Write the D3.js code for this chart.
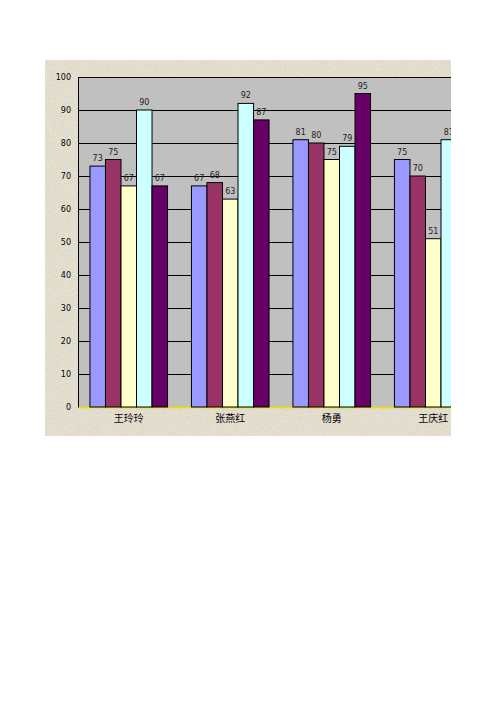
<!DOCTYPE html>
<html>
<head>
<meta charset="utf-8">
<script src="https://cdn.jsdelivr.net/npm/d3@7"></script>
<style>
  body { margin: 0; background: #fff; }
</style>
</head>
<body>
<div id="chart"></div>
<script>
const categories = ["王玲玲", "张燕红", "杨勇", "王庆红"];
const seriesColors = ["#9999FF", "#993366", "#FFFFCC", "#CCFFFF", "#660066"];
// one array per series, in category order (last bar of 王庆红 is cut off in the picture)
const series1 = [73, 67, 81, 75];
const series2 = [75, 68, 80, 70];
const series3 = [67, 63, 75, 51];
const series4 = [90, 92, 79, 81];
const series5 = [67, 87, 95, null];
const yTicks = [0, 10, 20, 30, 40, 50, 60, 70, 80, 90, 100];

const allSeries = [series1, series2, series3, series4, series5];

const outer = {left: 45, top: 60, right: 451, bottom: 436};
const plot = {left: 78, top: 77, bottom: 407, right: 451};
const step = 101.5;

const svg = d3.select("#chart")
  .append("svg")
    .attr("width", 496)
    .attr("height", 702);

const defs = svg.append("defs");
const filter = defs.append("filter").attr("id", "grain")
  .attr("x", 0).attr("y", 0).attr("width", 1).attr("height", 1);
filter.append("feTurbulence")
  .attr("type", "fractalNoise")
  .attr("baseFrequency", "1.1 0.6")
  .attr("numOctaves", 2)
  .attr("seed", 3)
  .attr("result", "noise");
filter.append("feColorMatrix")
  .attr("in", "noise")
  .attr("type", "matrix")
  .attr("values", "0 0 0 0 0.55  0 0 0 0 0.52  0 0 0 0 0.44  0 0 0 -1.4 1.0")
  .attr("result", "tint");
filter.append("feComposite").attr("in", "tint").attr("in2", "SourceGraphic").attr("operator", "in");

defs.append("clipPath").attr("id", "cut")
  .append("rect")
    .attr("x", 0).attr("y", 0)
    .attr("width", outer.right).attr("height", 702);

const g = svg.append("g").attr("clip-path", "url(#cut)");

// textured chart background
g.append("rect")
  .attr("x", outer.left).attr("y", outer.top)
  .attr("width", outer.right - outer.left).attr("height", outer.bottom - outer.top)
  .attr("fill", "#E8E2D3");
g.append("rect")
  .attr("x", outer.left).attr("y", outer.top)
  .attr("width", outer.right - outer.left).attr("height", outer.bottom - outer.top)
  .attr("fill", "#E8E2D3")
  .attr("filter", "url(#grain)")
  .attr("opacity", 0.5);

const x = d3.scaleBand()
  .domain(categories)
  .range([plot.left, plot.left + step * categories.length])
  .padding(0);

const xSub = d3.scaleBand()
  .domain(d3.range(allSeries.length))
  .range([0, x.bandwidth()])
  .paddingInner(0)
  .paddingOuter(0.77);

const y = d3.scaleLinear()
  .domain([0, 100])
  .range([plot.bottom, plot.top]);

// plot area
g.append("rect")
  .attr("x", plot.left).attr("y", plot.top)
  .attr("width", plot.right - plot.left + 40).attr("height", plot.bottom - plot.top)
  .attr("fill", "#C0C0C0");

// gridlines
g.selectAll(".grid")
  .data(yTicks.filter(d => d > 0))
  .join("line")
    .attr("x1", plot.left).attr("x2", plot.right + 40)
    .attr("y1", d => y(d)).attr("y2", d => y(d))
    .attr("stroke", "#000")
    .attr("stroke-width", 1)
    .attr("shape-rendering", "crispEdges");

// y axis
const yAxis = g.append("g")
  .attr("transform", "translate(" + plot.left + ",0)")
  .call(d3.axisLeft(y).tickValues(yTicks).tickSize(0).tickPadding(7));
yAxis.select(".domain").attr("stroke", "#000").attr("shape-rendering", "crispEdges");
yAxis.selectAll("text")
  .style("font-family", "'DejaVu Sans', Tahoma, sans-serif")
  .style("font-size", "8px")
  .style("fill", "#000");

// x axis (yellow line with ticks between groups)
const xAxis = g.append("g")
  .attr("transform", "translate(0," + plot.bottom + ")")
  .call(d3.axisBottom(x).tickSize(0).tickPadding(8));
xAxis.select(".domain").attr("stroke", "#E8E000").attr("stroke-width", 1.5);
xAxis.selectAll("text")
  .style("font-family", "'Noto Sans CJK SC', sans-serif")
  .style("font-size", "10px")
  .style("fill", "#000");
g.selectAll(".xtick")
  .data(categories.slice(1))
  .join("line")
    .attr("x1", d => x(d)).attr("x2", d => x(d))
    .attr("y1", plot.bottom).attr("y2", plot.bottom + 3)
    .attr("stroke", "#E8E000")
    .attr("stroke-width", 1);

// bars
const barData = [];
categories.forEach((c, ci) => {
  allSeries.forEach((s, si) => {
    if (s[ci] != null) barData.push({cat: c, si: si, value: s[ci]});
  });
});

g.selectAll(".bar")
  .data(barData)
  .join("rect")
    .attr("x", d => x(d.cat) + xSub(d.si))
    .attr("y", d => y(d.value))
    .attr("width", xSub.bandwidth())
    .attr("height", d => plot.bottom - y(d.value))
    .attr("fill", d => seriesColors[d.si])
    .attr("stroke", "#000")
    .attr("stroke-width", 1);

g.selectAll(".val")
  .data(barData)
  .join("text")
    .attr("x", d => x(d.cat) + xSub(d.si) + xSub.bandwidth() / 2)
    .attr("y", d => y(d.value) - 5)
    .attr("text-anchor", "middle")
    .style("font-family", "'DejaVu Sans', Tahoma, sans-serif")
    .style("font-size", "8px")
    .style("fill", "#222")
    .text(d => d.value);
</script>
</body>
</html>
